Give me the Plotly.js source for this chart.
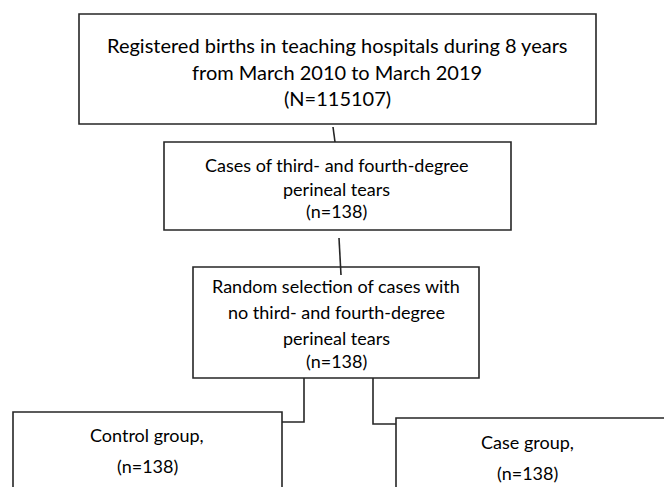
<!DOCTYPE html>
<html>
<head>
<meta charset="utf-8">
<script src="https://cdn.plot.ly/plotly-3.0.1.min.js"></script>
<style>html,body{margin:0;padding:0;background:#fff;}#chart{width:664px;height:487px;}</style>
</head>
<body>
<div id="chart"></div>
<script>
// ---- content (data) ----
const stepNames = ["registered", "tears", "random", "control", "case"];
const stepLines = [
  ["Registered births in teaching hospitals during 8 years", "from March 2010 to March 2019"],
  ["Cases of third- and fourth-degree", "perineal tears"],
  ["Random selection of cases with", "no third- and fourth-degree", "perineal tears"],
  ["Control group,"],
  ["Case group,"]
];
const countLabels = ["N", "n", "n", "n", "n"];
const counts = [115107, 138, 138, 138, 138];

// ---- layout geometry (positions, not data) ----
const boxes = [
  {x0: 79, x1: 596, y0: 14, y1: 124, tx: 337, fs: 20, lineY: [45, 72, 98]},
  {x0: 164, x1: 511, y0: 142, y1: 230, tx: 336, fs: 18, lineY: [165, 189, 211]},
  {x0: 193, x1: 479, y0: 267, y1: 378, tx: 336, fs: 18, lineY: [286, 312, 338, 361]},
  {x0: 13, x1: 282, y0: 412, y1: 500, tx: 147, fs: 18, lineY: [435, 466]},
  {x0: 396, x1: 680, y0: 418, y1: 500, tx: 527, fs: 18, lineY: [442, 473]}
];
const connectors = [
  "M333,127 L335,142",
  "M339,238 L341,275",
  "M304,378 L304,422 L282,422",
  "M373,378 L373,424 L396,424"
];

const lineStyle = {color: "#262626", width: 1.6};
const shapes = [];
const annotations = [];
boxes.forEach((b, i) => {
  shapes.push({type: "rect", xref: "x", yref: "y", x0: b.x0, x1: b.x1, y0: b.y0, y1: b.y1,
               line: lineStyle, fillcolor: "rgba(0,0,0,0)"});
  const lines = stepLines[i].concat(["(" + countLabels[i] + "=" + counts[i] + ")"]);
  lines.forEach((t, j) => {
    annotations.push({xref: "x", yref: "y", x: b.tx, y: b.lineY[j], text: t,
      showarrow: false, xanchor: "center", yanchor: "middle",
      font: {family: "Lato, 'Open Sans', sans-serif", size: b.fs, color: "#000"}});
  });
});
connectors.forEach(p => shapes.push({type: "path", xref: "x", yref: "y", path: p, line: lineStyle}));

const layout = {
  width: 664, height: 487,
  margin: {l: 0, r: 0, t: 0, b: 0},
  paper_bgcolor: "#fff", plot_bgcolor: "#fff",
  xaxis: {range: [0, 664], visible: false, fixedrange: true},
  yaxis: {range: [487, 0], visible: false, fixedrange: true},
  shapes: shapes,
  annotations: annotations,
  showlegend: false
};
Plotly.newPlot("chart", [], layout, {staticPlot: true, displayModeBar: false});
</script>
</body>
</html>
